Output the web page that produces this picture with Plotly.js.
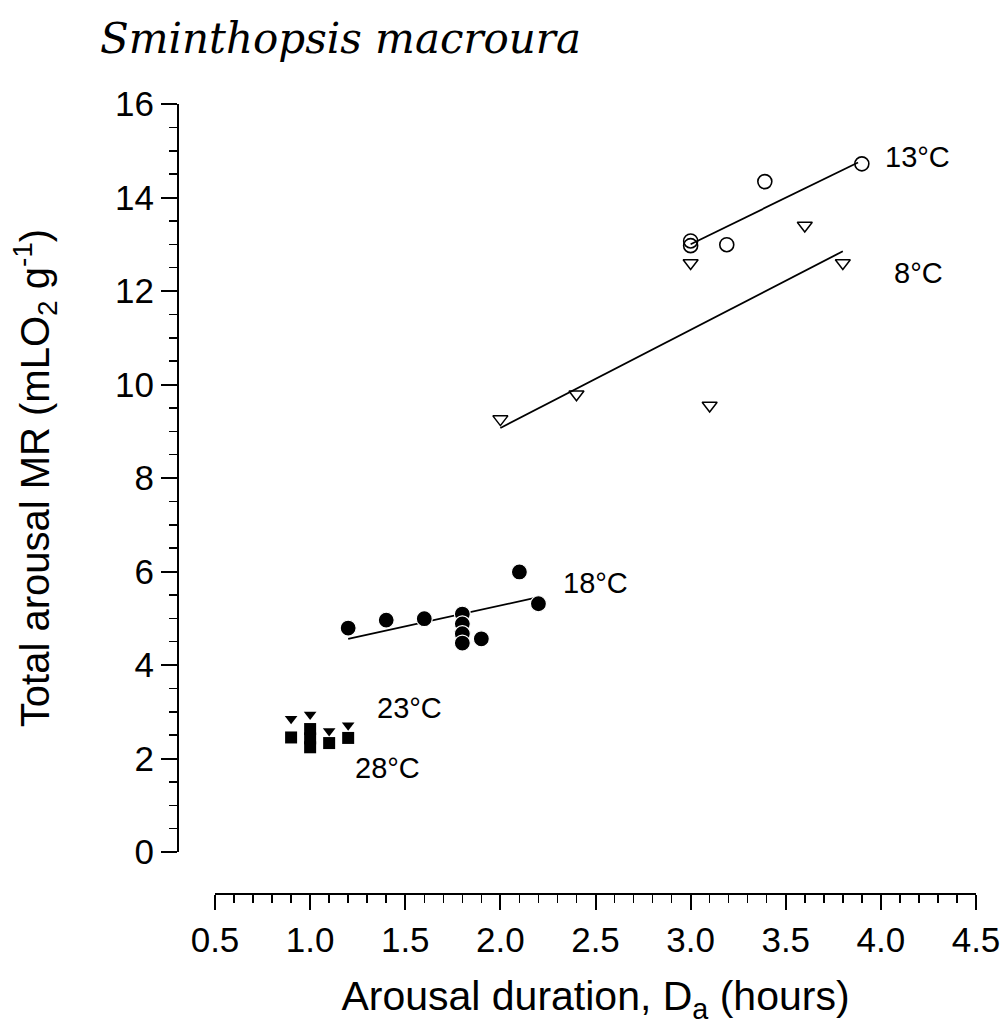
<!DOCTYPE html>
<html>
<head>
<meta charset="utf-8">
<script src="https://cdn.plot.ly/plotly-3.0.1.min.js"></script>
<style>
  html, body { margin: 0; padding: 0; background: #fff; }
  #chart { width: 1006px; height: 1025px; }
</style>
</head>
<body>
<div id="chart"></div>
<script>
// Arousal duration (hours) and total arousal metabolic rate (mL O2 per g)
// for each ambient temperature group.
const dur13 = [3.0, 3.0, 3.19, 3.39, 3.9];
const mr13  = [13.07, 12.97, 12.99, 14.34, 14.72];

const dur8 = [2.0, 2.4, 3.0, 3.1, 3.6, 3.8];
const mr8  = [9.26, 9.79, 12.60, 9.55, 13.40, 12.60];

const dur18 = [1.2, 1.4, 1.6, 1.8, 1.8, 1.8, 1.8, 1.9, 2.1, 2.2];
const mr18  = [4.79, 4.96, 4.99, 5.09, 4.88, 4.67, 4.47, 4.56, 5.99, 5.31];

const dur23 = [0.9, 1.0, 1.1, 1.2];
const mr23  = [2.85, 2.94, 2.59, 2.71];

const dur28 = [0.9, 1.0, 1.0, 1.0, 1.1, 1.2];
const mr28  = [2.45, 2.63, 2.43, 2.24, 2.33, 2.44];

// Regression line end points
const fit13x = [3.0, 3.88];
const fit13y = [13.0, 14.75];
const fit8x  = [2.0, 3.8];
const fit8y  = [9.07, 12.85];
const fit18x = [1.2, 2.2];
const fit18y = [4.56, 5.45];

// Group labels
const groupLabels = ['13°C', '8°C', '18°C', '23°C', '28°C'];
const labelX = [4.01, 4.06, 2.32, 1.34, 1.225];
const labelY = [14.87, 12.39, 5.75, 3.08, 1.80];

const xTickVals = [0.5, 1.0, 1.5, 2.0, 2.5, 3.0, 3.5, 4.0, 4.5];
const yTickVals = [0, 2, 4, 6, 8, 10, 12, 14, 16];

const sans = 'Liberation Sans, Arial, Helvetica, sans-serif';

function fitLine(x, y) {
  return { x: x, y: y, type: 'scatter', mode: 'lines',
           line: { color: 'black', width: 1.8 }, hoverinfo: 'skip' };
}

const traces = [
  fitLine(fit13x, fit13y),
  fitLine(fit8x, fit8y),
  fitLine(fit18x, fit18y),
  { x: dur13, y: mr13, type: 'scatter', mode: 'markers', name: '13°C',
    marker: { symbol: 'circle-open', size: 14, color: 'black', line: { width: 1.6, color: 'black' } } },
  { x: dur8, y: mr8, type: 'scatter', mode: 'markers', name: '8°C',
    marker: { symbol: 'triangle-down-open', size: 13, color: 'black', line: { width: 1.5, color: 'black' } } },
  { x: dur18, y: mr18, type: 'scatter', mode: 'markers', name: '18°C',
    marker: { symbol: 'circle', size: 16, color: 'black', line: { width: 1.2, color: 'white' } } },
  { x: dur28, y: mr28, type: 'scatter', mode: 'markers', name: '28°C',
    marker: { symbol: 'square', size: 12, color: 'black', line: { width: 0 } } },
  { x: dur23, y: mr23, type: 'scatter', mode: 'markers', name: '23°C',
    marker: { symbol: 'triangle-down', size: 11, color: 'black', line: { width: 0 } } }
];

const annotations = groupLabels.map((t, i) => ({
  x: labelX[i], y: labelY[i], xref: 'x', yref: 'y', text: t,
  showarrow: false, xanchor: 'left', yanchor: 'middle',
  font: { family: sans, size: 29, color: 'black' }
}));

const layout = {
  width: 1006, height: 1025,
  margin: { l: 178, r: 30, t: 104, b: 131, autoexpand: false },
  paper_bgcolor: 'white', plot_bgcolor: 'white',
  showlegend: false,
  title: {
    text: '<i>Sminthopsis macroura</i>',
    font: { family: 'DejaVu Serif, serif', size: 42, color: 'black' },
    xref: 'container', yref: 'container',
    x: 100 / 1006, xanchor: 'left',
    y: 1 - 38 / 1025, yanchor: 'middle'
  },
  xaxis: {
    range: [0.5, 4.5], domain: [37 / 798, 1],
    anchor: 'free', position: 0,
    showline: true, linecolor: 'black', linewidth: 2,
    ticks: 'outside', ticklen: 15, tickwidth: 2, tickcolor: 'black',
    tickmode: 'array', tickvals: xTickVals, ticktext: xTickVals.map(v => v.toFixed(1)),
    minor: { ticks: 'outside', dtick: 0.1, tick0: 0.5, ticklen: 8, tickwidth: 1.5, tickcolor: 'black', showgrid: false },
    showgrid: false, zeroline: false, automargin: false,
    tickfont: { family: sans, size: 35, color: 'black' },
    title: { text: 'Arousal duration, D<sub>a</sub> (hours)', font: { family: sans, size: 41, color: 'black' }, standoff: 26 }
  },
  yaxis: {
    range: [0, 16], domain: [42 / 790, 1],
    anchor: 'free', position: 0,
    showline: true, linecolor: 'black', linewidth: 2,
    ticks: 'outside', ticklen: 16, tickwidth: 2, tickcolor: 'black',
    tickmode: 'array', tickvals: yTickVals,
    minor: { ticks: 'outside', dtick: 0.5, tick0: 0, ticklen: 8, tickwidth: 1.5, tickcolor: 'black', showgrid: false },
    showgrid: false, zeroline: false, automargin: false,
    tickfont: { family: sans, size: 35, color: 'black' },
    title: { text: 'Total arousal MR (mLO<sub>2</sub> g<sup>-1</sup>)', font: { family: sans, size: 40, color: 'black' }, standoff: 52 }
  },
  annotations: annotations
};

Plotly.newPlot('chart', traces, layout, { staticPlot: true, displayModeBar: false });
</script>
</body>
</html>
